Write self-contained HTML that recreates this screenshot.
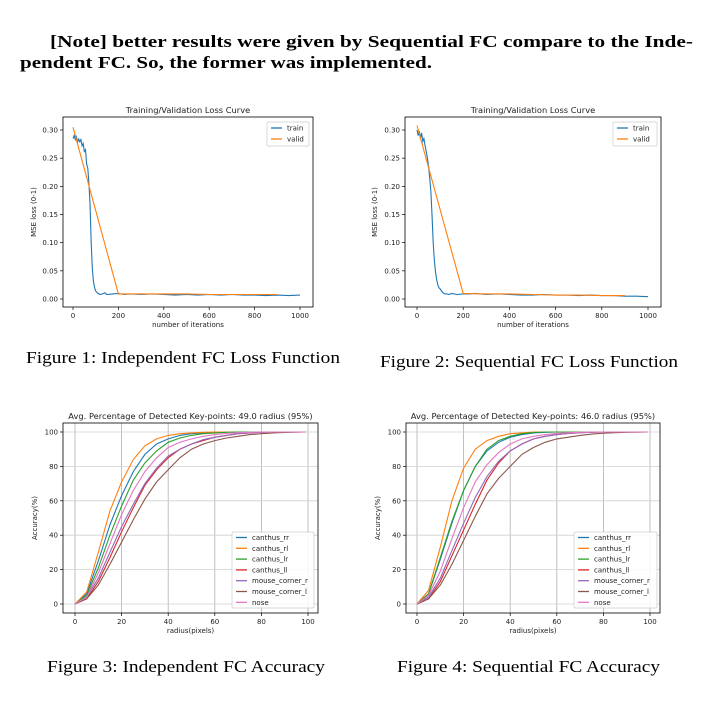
<!DOCTYPE html>
<html><head><meta charset="utf-8"><style>
body{margin:0;background:#fff;width:713px;height:717px;overflow:hidden;font-family:"Liberation Serif",serif}
svg{position:absolute;left:0;top:0}
.doc{font-family:"Liberation Serif",serif;font-size:17px;fill:#000}
.mp{font-family:"DejaVu Sans","Liberation Sans",sans-serif;fill:#222}
</style></head><body>
<svg id="s" width="713" height="717" xmlns="http://www.w3.org/2000/svg">
<text class="doc" x="50" y="47" font-weight="bold" textLength="643" lengthAdjust="spacingAndGlyphs">[Note] better results were given by Sequential FC compare to the Inde-</text>
<text class="doc" x="20" y="68" font-weight="bold" textLength="412" lengthAdjust="spacingAndGlyphs">pendent FC. So, the former was implemented.</text>
<text class="doc" x="26" y="363" textLength="314" lengthAdjust="spacingAndGlyphs">Figure 1: Independent FC Loss Function</text>
<text class="doc" x="380" y="367" textLength="298" lengthAdjust="spacingAndGlyphs">Figure 2: Sequential FC Loss Function</text>
<text class="doc" x="47" y="672" textLength="278" lengthAdjust="spacingAndGlyphs">Figure 3: Independent FC Accuracy</text>
<text class="doc" x="397" y="672" textLength="263" lengthAdjust="spacingAndGlyphs">Figure 4: Sequential FC Accuracy</text>
</svg>
<script>
// ---- data ----
const trainIter1=[0,5,10,15,20,25,30,35,40,45,50,55,60,65,70,75,80,85,90,95,100,110,120,130,140,150,175,200,225,250,300,350,400,450,500,550,600,650,700,750,800,850,900,950,1000];
const trainLoss1=[.285,.29,.283,.288,.278,.284,.279,.283,.272,.276,.262,.265,.24,.232,.205,.17,.1,.055,.032,.02,.014,.01,.008,.009,.011,.008,.009,.01,.008,.009,.008,.009,.008,.007,.008,.007,.008,.007,.008,.007,.007,.006,.007,.006,.007];
const validIter1=[0,200,300,400,500,600,700,800,900];
const validLoss1=[.305,.009,.009,.009,.009,.008,.008,.008,.008];
const trainIter2=[0,5,10,15,20,25,30,35,40,45,50,55,60,65,70,75,80,85,90,95,100,110,120,130,140,150,175,200,225,250,300,350,400,450,500,550,600,650,700,750,800,850,900,950,1000];
const trainLoss2=[.3,.29,.298,.285,.295,.28,.285,.272,.262,.25,.235,.215,.19,.15,.1,.07,.048,.035,.025,.02,.018,.012,.009,.009,.008,.01,.008,.009,.009,.01,.008,.009,.008,.007,.007,.008,.007,.007,.006,.007,.006,.006,.005,.005,.004];
const validIter2=[0,200,300,400,500,600,700,800,900];
const validLoss2=[.308,.01,.009,.009,.008,.007,.007,.006,.006];
const lossYTicks=[0,.05,.1,.15,.2,.25,.3];
const lossYLabels=["0.00","0.05","0.10","0.15","0.20","0.25","0.30"];
const lossXTicks=[0,200,400,600,800,1000];
const radius=[0,5,10,15,20,25,30,35,40,45,50,55,60,65,70,75,80,85,90,95,99];
const seriesNames=["canthus_rr","canthus_rl","canthus_lr","canthus_ll","mouse_corner_r","mouse_corner_l","nose"];
const colors=["#1f77b4","#ff7f0e","#2ca02c","#d62728","#9467bd","#8c564b","#e377c2"];
const acc3_rr=[0,6,25,46,63,77,87,93,96,98,99,99.5,99.8,100,100,100,100,100,100,100,100];
const acc3_rl=[0,7,30,54,71,84,92,96,98,99,99.5,99.8,100,100,100,100,100,100,100,100,100];
const acc3_lr=[0,5,21,40,57,72,82,89,94,96.5,98,99,99.5,99.8,100,100,100,100,100,100,100];
const acc3_ll=[0,3,13,27,42,56,69,78,85,90,93,95,97,98,99,99.5,99.8,100,100,100,100];
const acc3_mr=[0,4,15,30,45,58,70,79,86,90,93,95.5,97,98,99,99.5,99.8,100,100,100,100];
const acc3_ml=[0,3,11,23,36,49,61,71,78,85,90,93,95,96.5,97.5,98.5,99,99.4,99.7,99.9,100];
const acc3_nose=[0,4,18,35,52,66,77,85,91,94,96,97.5,98.5,99.2,99.6,99.8,100,100,100,100,100];
const acc4_rr=[0,6,26,47,66,80,89,94,97,98.5,99.5,99.8,100,100,100,100,100,100,100,100,100];
const acc4_rl=[0,8,33,60,79,90,95,97.5,99,99.5,100,100,100,100,100,100,100,100,100,100,100];
const acc4_lr=[0,6,27,48,66,80,90,95,97.5,99,99.7,100,100,100,100,100,100,100,100,100,100];
const acc4_ll=[0,3,13,28,43,58,72,82,89,93,96,97.5,98.5,99.2,99.6,99.8,100,100,100,100,100];
const acc4_mr=[0,4,15,31,47,62,74,83,89,93,96,97.5,98.5,99.2,99.6,99.8,100,100,100,100,100];
const acc4_ml=[0,3,11,23,37,51,64,73,80,87,91,94,96,97,98,98.8,99.3,99.6,99.8,99.9,100];
const acc4_nose=[0,5,19,38,56,71,81,88,93,96,97.5,98.5,99.2,99.6,99.8,100,100,100,100,100,100];
const accYTicks=[0,20,40,60,80,100];
const accXTicks=[0,20,40,60,80,100];

const NS="http://www.w3.org/2000/svg";
const svg=document.getElementById('s');
function mk(tag,attrs,parent){const e=document.createElementNS(NS,tag);for(const k in attrs)e.setAttribute(k,attrs[k]);(parent||svg).appendChild(e);return e;}
function txt(s,attrs,parent){const e=mk('text',attrs,parent);e.textContent=s;return e;}

function chart(c){
  const g=mk('g',{});
  
  
  const sx=v=>c.x0+(v-c.xmin)/(c.xmax-c.xmin)*(c.x1-c.x0);
  const sy=v=>c.y0+(v-c.ymin)/(c.ymax-c.ymin)*(c.y1-c.y0);
  if(c.grid){
    c.xt.forEach(v=>{const l=mk('line',{x1:sx(v),x2:sx(v),y1:c.top,y2:c.bot,stroke:'#b0b0b0','stroke-width':0.8},g);});
    c.yt.forEach(v=>{const l=mk('line',{x1:c.left,x2:c.right,y1:sy(v),y2:sy(v),stroke:'#d0d0d0','stroke-width':0.8},g);});
  }
  c.series.forEach(s=>{
    const pts=s.x.map((v,i)=>sx(v).toFixed(1)+','+sy(s.y[i]).toFixed(1)).join(' ');
    const p=mk('polyline',{points:pts,fill:'none',stroke:s.color,'stroke-width':1.1},g);
    
    
  });
  const fr=mk('rect',{x:c.left,y:c.top,width:c.right-c.left,height:c.bot-c.top,fill:'none',stroke:'#000','stroke-width':0.8},g);
  
  
  c.xt.forEach(v=>{mk('line',{x1:sx(v),x2:sx(v),y1:c.bot,y2:c.bot+3,stroke:'#000','stroke-width':0.7},g);
    const t=txt(String(v),{x:sx(v),y:c.bot+11,'font-size':7,'text-anchor':'middle',class:'mp'},g);});
  c.yt.forEach((v,i)=>{mk('line',{x1:c.left-3,x2:c.left,y1:sy(v),y2:sy(v),stroke:'#000','stroke-width':0.7},g);
    const t=txt(c.yl[i],{x:c.left-5,y:sy(v)+2.5,'font-size':7,'text-anchor':'end',class:'mp'},g);});
  const ti=txt(c.title,{x:(c.left+c.right)/2,y:c.top-4,'font-size':8.3,'text-anchor':'middle',class:'mp'},g);
  
  const xl=txt(c.xlabel,{x:(c.left+c.right)/2,y:c.bot+20,'font-size':7,'text-anchor':'middle',class:'mp'},g);
  
  const ylx=c.ylx, yly=(c.top+c.bot)/2;
  const yl=txt(c.ylabel,{x:ylx,y:yly,'font-size':7,'text-anchor':'middle',class:'mp',transform:`rotate(-90 ${ylx} ${yly})`},g);
  
  const L=c.leg;
  const lg=mk('g',{},g);
  
  mk('rect',{x:L.x,y:L.y,width:L.w,height:L.h,fill:'#fff','fill-opacity':0.85,stroke:'#ccc','stroke-width':0.7,rx:1.5},lg);
  c.series.forEach((s,i)=>{const yy=L.y+L.first+i*L.dy;
    mk('line',{x1:L.x+4,x2:L.x+15,y1:yy,y2:yy,stroke:s.color,'stroke-width':1.3},lg);
    const t=txt(s.label,{x:L.x+20,y:yy+2.5,'font-size':7,class:'mp'},lg);});
}
const lossBase={xmin:0,xmax:1000,ymin:0,ymax:0.3,xt:lossXTicks,yt:lossYTicks,yl:lossYLabels,title:'Training/Validation Loss Curve',xlabel:'number of iterations',ylabel:'MSE loss (0-1)',grid:false};
chart(Object.assign({},lossBase,{name:'loss-chart-independent',left:63,right:313,top:117,bot:307,x0:73,x1:300,y0:299,y1:130,ylx:36,
  series:[{label:'train',x:trainIter1,y:trainLoss1,color:colors[0]},{label:'valid',x:validIter1,y:validLoss1,color:colors[1]}],
  leg:{x:267,y:122,w:42,h:24,first:6,dy:11}}));
chart(Object.assign({},lossBase,{name:'loss-chart-sequential',left:405,right:661,top:117,bot:307,x0:417,x1:648,y0:299,y1:130,ylx:377,
  series:[{label:'train',x:trainIter2,y:trainLoss2,color:colors[0]},{label:'valid',x:validIter2,y:validLoss2,color:colors[1]}],
  leg:{x:613,y:122,w:44,h:24,first:6,dy:11}}));
const acc3=[acc3_rr,acc3_rl,acc3_lr,acc3_ll,acc3_mr,acc3_ml,acc3_nose];
const acc4=[acc4_rr,acc4_rl,acc4_lr,acc4_ll,acc4_mr,acc4_ml,acc4_nose];
const accBase={xmin:0,xmax:100,ymin:0,ymax:100,xt:accXTicks,yt:accYTicks,yl:accYTicks.map(String),xlabel:'radius(pixels)',ylabel:'Accuracy(%)',grid:true};
chart(Object.assign({},accBase,{name:'accuracy-chart-independent',title:'Avg. Percentage of Detected Key-points: 49.0 radius (95%)',left:63,right:318,top:423,bot:613,x0:75,x1:308,y0:604,y1:432,ylx:37,
  series:seriesNames.map((n,i)=>({label:n,x:radius,y:acc3[i],color:colors[i]})),
  leg:{x:232,y:532,w:82,h:76,first:5.5,dy:10.8}}));
chart(Object.assign({},accBase,{name:'accuracy-chart-sequential',title:'Avg. Percentage of Detected Key-points: 46.0 radius (95%)',left:406,right:660,top:423,bot:613,x0:417,x1:650,y0:604,y1:432,ylx:380,
  series:seriesNames.map((n,i)=>({label:n,x:radius,y:acc4[i],color:colors[i]})),
  leg:{x:574,y:532,w:83,h:76,first:5.5,dy:10.8}}));
</script>
</body></html>
